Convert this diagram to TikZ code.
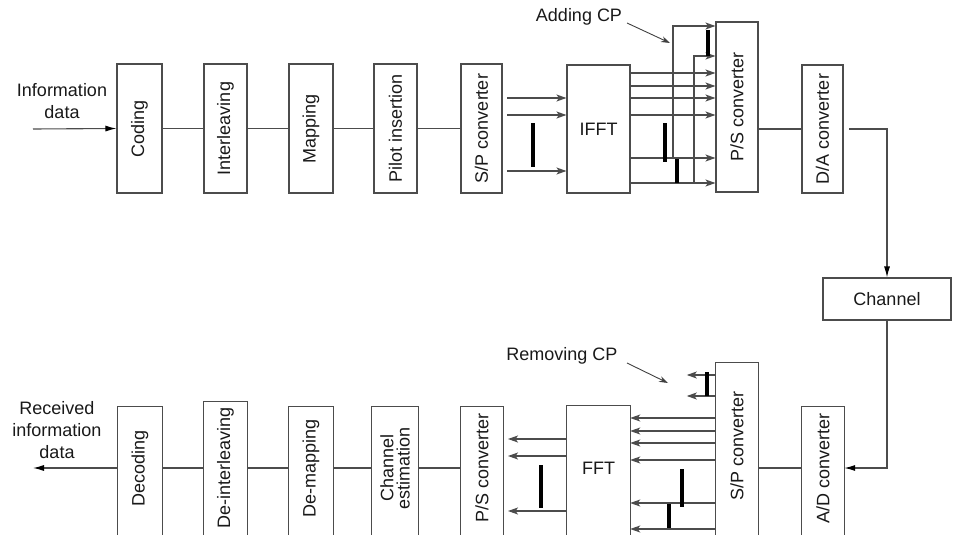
\documentclass[tikz,border=0pt]{standalone}
\usepackage{fontspec}
\setmainfont{Liberation Sans}
\usetikzlibrary{arrows.meta}
\begin{document}
\begin{tikzpicture}[x=1pt,y=-1pt,
  font=\fontsize{18}{22}\selectfont,
  blk/.style={draw=black!70, line width=1.1pt, inner sep=0pt, text=black!90},
  nob/.style={inner sep=0pt, text=black!90},
  ln/.style={draw=black!70, line width=1.1pt},
  arr/.style={ln, -{Stealth[length=10pt,width=7pt,inset=2.5pt]}},
  inarr/.style={ln, -{Latex[length=11pt,width=6pt,black]}},
  ptr/.style={draw=black!75, line width=0.9pt, -{Stealth[length=9pt,width=6pt]}},
  bar/.style={line width=3.5pt, black},
  lbl/.style={text=black!90, align=center, inner sep=0pt},
]
\useasboundingbox (0,0) rectangle (953,535);
\clip (0,0) rectangle (953,535);

% ---------- transmitter ----------
\node[blk, minimum width=45pt, minimum height=129pt] (cod) at (139.5,128.5) {\rotatebox{90}{Coding}};
\node[blk, minimum width=43pt, minimum height=129pt] (il) at (225.5,128.5) {\rotatebox{90}{Interleaving}};
\node[blk, minimum width=44pt, minimum height=129pt] (map) at (311,128.5) {\rotatebox{90}{Mapping}};
\node[blk, minimum width=43pt, minimum height=129pt] (pil) at (395.5,128.5) {\rotatebox{90}{Pilot insertion}};
\node[blk, minimum width=41pt, minimum height=129pt] (sp) at (481.5,128.5) {\rotatebox{90}{S/P converter}};
\node[blk, minimum width=63pt, minimum height=128pt] (ifft) at (598.5,129) {IFFT};
\node[blk, minimum width=42pt, minimum height=170pt] (ps) at (737,107) {\rotatebox{90}{P/S converter}};
\node[blk, minimum width=41pt, minimum height=128pt] (da) at (822.5,129) {\rotatebox{90}{D/A converter}};
\node[blk, minimum width=128pt, minimum height=42pt] (ch) at (887,299) {Channel};

\node[lbl] (info) at (62,101) {Information\\data};
\coordinate (in) at (33,129);
\draw[inarr] (in) -- (cod.west);
\draw[ln] (cod.east) -- (il.west);
\draw[ln] (il.east) -- (map.west);
\draw[ln] (map.east) -- (pil.west);
\draw[ln] (pil.east) -- (sp.west);

\coordinate (spo) at (507,0);
\foreach \y in {98,115,171} \draw[arr] (spo |- 0,\y) -- (ifft.west |- 0,\y);
\draw[bar] (533,123) -- (533,167);

\foreach \y in {73,86,98,115,158,183} \draw[arr] (ifft.east |- 0,\y) -- (ps.west |- 0,\y);
\coordinate (cpa) at (673,158);
\coordinate (cpb) at (694,183);
\draw[arr] (cpa) -- (cpa |- 0,26) -- (ps.west |- 0,26);
\draw[arr] (cpb) -- (cpb |- 0,56) -- (ps.west |- 0,56);
\draw[bar] (708,30) -- (708,56);
\draw[bar] (665,123) -- (665,162);
\draw[bar] (677,159) -- (677,183);

\node[lbl] (addcp) at (579,17) {Adding CP};
\coordinate (addtip) at (670,43);
\draw[ptr] (627,23) -- (addtip);

\draw[ln] (ps.east |- da.west) -- (da.west);
\coordinate (dao) at (849,129);
\draw[inarr] (dao) -| (ch.north);

% ---------- receiver ----------
\node[nob, minimum width=42pt, minimum height=122pt] (ad) at (823,468) {\rotatebox{90}{A/D converter}};
\node[nob, minimum width=42pt, minimum height=166pt] (sp2) at (737,446) {\rotatebox{90}{S/P converter}};
\node[nob, minimum width=63pt, minimum height=124pt] (fft) at (598.5,468) {FFT};
\node[nob, minimum width=42pt, minimum height=122pt] (ps2) at (482,468) {\rotatebox{90}{P/S converter}};
\node[nob, minimum width=46pt, minimum height=122pt] (ce) at (395,468) {\rotatebox{90}{\shortstack{Channel\\estimation}}};
\node[nob, minimum width=44pt, minimum height=122pt] (dm) at (311,468) {\rotatebox{90}{De-mapping}};
\node[nob, minimum width=43pt, minimum height=132pt] (dil) at (225.5,468) {\rotatebox{90}{De-interleaving}};
\node[nob, minimum width=44pt, minimum height=122pt] (dec) at (140,468) {\rotatebox{90}{Decoding}};
\foreach \n in {ad,sp2,fft,ps2,ce,dm,dil,dec}
  \draw[ln] (\n.south west) -- (\n.north west) -- (\n.north east) -- (\n.south east) -- ([yshift=-12pt]\n.south east) -- ([yshift=-12pt]\n.south west) -- cycle;

\draw[inarr] (ch.south) |- (ad.east);
\draw[ln] (ad.west) -- (sp2.east |- ad.west);

\foreach \y in {418,431,443,460,503,529} \draw[arr] (sp2.west |- 0,\y) -- (fft.east |- 0,\y);
\draw[arr] (sp2.west |- 0,375) -- ++(-29,0);
\draw[arr] (sp2.west |- 0,396) -- ++(-29,0);
\draw[bar] (707,372) -- (707,396);
\draw[bar] (682,469) -- (682,507);
\draw[bar] (669,504) -- (669,528);

\coordinate (ps2o) at (508,0);
\foreach \y in {439,456,511} \draw[arr] (fft.west |- 0,\y) -- (ps2o |- 0,\y);
\draw[bar] (541,465) -- (541,508);

\node[lbl] (remcp) at (562,356) {Removing CP};
\coordinate (remtip) at (668,383);
\draw[ptr] (627,363) -- (remtip);

\draw[ln] (ps2.west) -- (ce.east);
\draw[ln] (ce.west) -- (dm.east);
\draw[ln] (dm.west) -- (dil.east);
\draw[ln] (dil.west) -- (dec.east);
\coordinate (out) at (33,468);
\draw[inarr] (dec.west) -- (out);
\node[lbl] (recv) at (57,430) {Received\\information\\data};
\end{tikzpicture}
\end{document}
